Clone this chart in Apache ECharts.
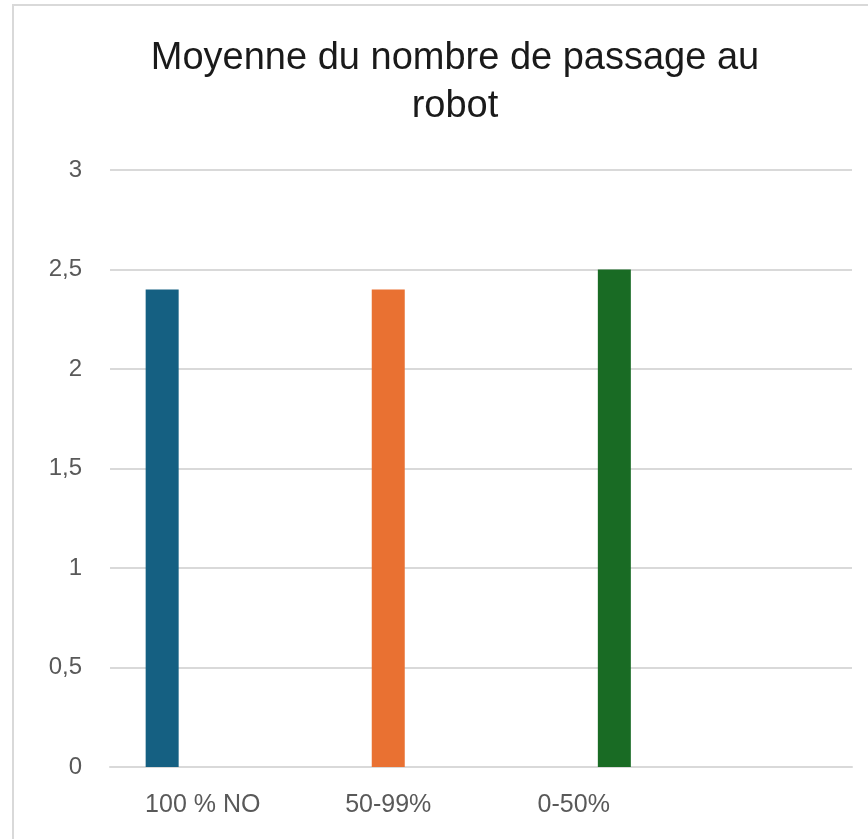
<!DOCTYPE html>
<html>
<head>
<meta charset="utf-8">
<script src="https://cdn.jsdelivr.net/npm/echarts@6/dist/echarts.min.js"></script>
<style>
  html, body { margin: 0; padding: 0; background: #fff; }
  #chart { width: 868px; height: 839px; }
  .frame { position: absolute; left: 12px; top: 4px; right: 0; bottom: 0;
           border-left: 2px solid #D9D9D9; border-top: 2px solid #D9D9D9; pointer-events: none; }
</style>
</head>
<body>
<div id="chart"></div>
<div class="frame"></div>
<script>
  // categories (4th slot is empty, as in the original Excel chart)
  const categories = ['100 % NO', '50-99%', '0-50%', ''];
  const seriesNames = ['100 % NO', '50-99%', '0-50%'];
  const colors = ['#156082', '#E97132', '#196B24'];
  // one value per series, each in its own category
  const noValues = [2.4, '-', '-', '-'];
  const midValues = ['-', 2.4, '-', '-'];
  const lowValues = ['-', '-', 2.5, '-'];
  const yMin = 0, yMax = 3, yStep = 0.5;

  const chart = echarts.init(document.getElementById('chart'));

  const makeSeries = (name, data, color) => ({
    name: name,
    type: 'bar',
    data: data,
    barWidth: 33,
    barGap: '23%',
    itemStyle: { color: color },
    animation: false
  });

  const option = {
    animation: false,
    title: {
      text: 'Moyenne du nombre de passage au\nrobot',
      left: 450,
      textAlign: 'center',
      top: 30,
      textStyle: {
        fontFamily: 'Liberation Sans',
        fontWeight: 'normal',
        fontSize: 38,
        lineHeight: 48,
        color: '#1a1a1a'
      }
    },
    grid: {
      left: 110,
      right: 16,
      top: 170,
      bottom: 72,
      containLabel: false
    },
    xAxis: {
      type: 'category',
      data: categories,
      axisTick: { show: false },
      axisLine: { lineStyle: { color: '#D9D9D9', width: 2 } },
      axisLabel: {
        interval: 0,
        margin: 26,
        color: '#595959',
        fontFamily: 'Liberation Sans',
        fontSize: 25
      }
    },
    yAxis: {
      type: 'value',
      min: yMin,
      max: yMax,
      interval: yStep,
      axisLine: { show: false },
      axisTick: { show: false },
      splitLine: { lineStyle: { color: '#D9D9D9', width: 2 } },
      axisLabel: {
        margin: 28,
        color: '#595959',
        fontFamily: 'Liberation Sans',
        fontSize: 24,
        formatter: v => String(v).replace('.', ',')
      }
    },
    series: [
      makeSeries(seriesNames[0], noValues, colors[0]),
      makeSeries(seriesNames[1], midValues, colors[1]),
      makeSeries(seriesNames[2], lowValues, colors[2])
    ]
  };

  chart.setOption(option);
</script>
</body>
</html>
